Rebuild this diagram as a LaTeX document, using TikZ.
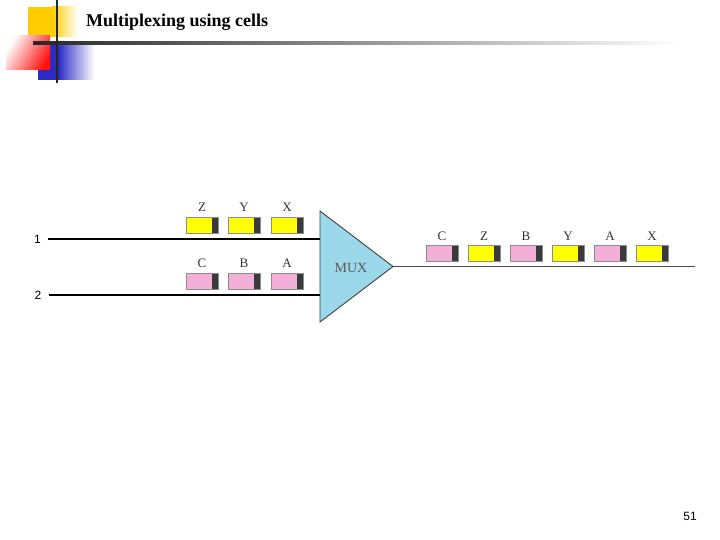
\documentclass[tikz,border=0pt]{standalone}
\usepackage{fontspec}
\setmainfont{Liberation Serif}
\setsansfont{Liberation Sans}
\usetikzlibrary{positioning, calc}

\definecolor{cellyellow}{HTML}{FFFF00}
\definecolor{cellpink}{HTML}{F4AFD9}
\definecolor{cellend}{HTML}{3A3A3A}
\definecolor{muxblue}{HTML}{9BD8EA}
\definecolor{decoyellow}{HTML}{FFCC00}
\definecolor{decored}{HTML}{FF1010}
\definecolor{decoblue}{HTML}{2B2BC8}

\begin{document}
\begin{tikzpicture}[
  x=1pt, y=-1pt,
  cell/.style = {
    rectangle, draw=black!45, line width=0.6pt, inner sep=0pt,
    minimum width=32pt, minimum height=16pt,
    path picture={\fill[cellend] ([xshift=-6pt]path picture bounding box.north east)
      rectangle (path picture bounding box.south east);}
  },
  ycell/.style = {cell, fill=cellyellow},
  pcell/.style = {cell, fill=cellpink},
  tag/.style = {font=\fontsize{13}{15}\selectfont, text=black!80, label distance=1.5pt},
  portnum/.style = {font=\sffamily\fontsize{12}{14}\selectfont},
  wire/.style = {line width=1.6pt, black},
  outwire/.style = {line width=1.3pt, black!70},
  muxshape/.style = {fill=muxblue, draw=black!75, line width=0.9pt, line join=miter},
  muxtext/.style = {font=\fontsize{14}{16}\selectfont, text=black!65}
]
  \useasboundingbox (0,0) rectangle (720,540);

  % Hiasan pojok kiri atas
  \fill[decoyellow] (28,7) rectangle (52,37);
  \shade[left color=decoyellow, right color=white] (52,7) rectangle (78,37);
  \fill[decoblue] (38,45) rectangle (58,80);
  \shade[left color=decoblue, right color=white] (58,45) rectangle (94,80);
  \shade[left color=white, right color=decored, shading angle=60] (6,36) rectangle (50,70);
  \shade[left color=black!85, middle color=black!40, right color=white] (33,41.8) rectangle (680,44.2);
  \fill[black!85] (55.8,0) rectangle (58.3,83);

  % Judul
  \node[anchor=base west, inner sep=0pt, font=\bfseries\fontsize{18}{20}\selectfont] (title) at (86,27) {Multiplexing using cells};

  % Jalur masukan
  \node[portnum] (in1) at (37.5,239) {1};
  \node[portnum] (in2) at (38,295) {2};

  % Multiplekser
  \coordinate (muxtop) at (320,211);
  \coordinate (muxbot) at (320,322);
  \coordinate (muxtip) at (393,266.5);
  \draw[muxshape] (muxtop) -- (muxtip) -- (muxbot) -- cycle;
  \node[muxtext] (mux) at (351,267.5) {MUX};

  % Garis masuk dan keluar
  \coordinate (outend) at (695,266.5);
  \draw[wire] ([xshift=4pt]in1.east) -- (in1 -| muxtop);
  \draw[wire] ([xshift=4pt]in2.east) -- (in2 -| muxtop);
  \draw[outwire] (muxtip) -- (outend);

  % Sel pada jalur 1
  \node[ycell, label={[tag]above:Z}] (cellZ) at (202,225) {};
  \node[ycell, label={[tag]above:Y}] (cellY) at (244,225) {};
  \node[ycell, label={[tag]above:X}] (cellX) at (287,225) {};

  % Sel pada jalur 2
  \node[pcell, label={[tag]above:C}] (cellC) at (202,281) {};
  \node[pcell, label={[tag]above:B}] (cellB) at (244,281) {};
  \node[pcell, label={[tag]above:A}] (cellA) at (287,281) {};

  % Sel keluaran (bergantian)
  \node[pcell, label={[tag]above:C}] (outC) at (442,253.5) {};
  \node[ycell, label={[tag]above:Z}] (outZ) at (484,253.5) {};
  \node[pcell, label={[tag]above:B}] (outB) at (526,253.5) {};
  \node[ycell, label={[tag]above:Y}] (outY) at (568,253.5) {};
  \node[pcell, label={[tag]above:A}] (outA) at (610,253.5) {};
  \node[ycell, label={[tag]above:X}] (outX) at (652,253.5) {};

  % Nomor halaman
  \node[font=\sffamily\fontsize{12}{14}\selectfont] (pagenum) at (690,516.5) {51};

\end{tikzpicture}
\end{document}
